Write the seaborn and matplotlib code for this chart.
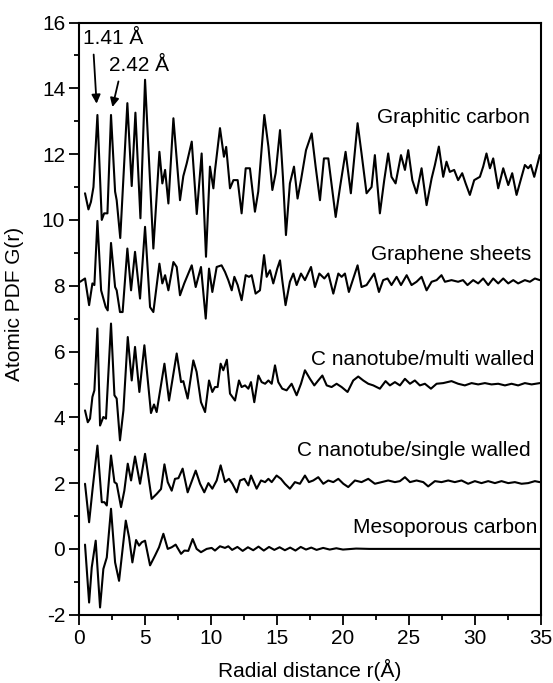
import pandas as pd
import seaborn as sns
import matplotlib.pyplot as plt
from matplotlib.ticker import MultipleLocator

# === Data (r in Angstrom, G(r) with vertical offsets) ===
graphitic_r = [0.45, 0.71, 0.9, 1.09, 1.39, 1.72, 1.9, 2.15, 2.42, 2.73, 2.85, 3.12, 3.66, 3.99,
               4.27, 4.65, 5.0, 5.63, 6.09, 6.31, 6.52, 6.77, 7.15, 7.65, 7.9, 8.16, 8.54, 8.92,
               9.29, 9.62, 9.92, 10.18, 10.3, 10.68, 10.98, 11.15, 11.44, 11.7, 12.02, 12.32,
               12.63, 12.95, 13.33, 13.58, 14.04, 14.35, 14.65, 14.9, 15.23, 15.45, 15.68, 15.98,
               16.29, 16.56, 16.82, 17.2, 17.63, 17.93, 18.26, 18.56, 18.89, 19.45, 19.78, 20.2,
               20.6, 21.11, 21.41, 21.79, 22.17, 22.42, 22.8, 23.13, 23.43, 23.68, 23.99, 24.4,
               24.7, 24.95, 25.26, 25.58, 25.96, 26.34, 26.72, 26.97, 27.27, 27.6, 27.85, 28.1,
               28.43, 28.73, 29.04, 29.3, 29.62, 29.95, 30.38, 30.63, 30.88, 31.14, 31.39, 31.77,
               32.15, 32.53, 32.83, 33.16, 33.54, 33.79, 34.04, 34.24, 34.5, 34.92]
graphitic_g = [10.81, 10.32, 10.55, 11.0, 13.19, 10.0, 10.2, 10.2, 13.19, 10.86, 10.6, 9.45, 13.55,
               11.03, 13.26, 10.05, 14.26, 9.13, 12.07, 11.11, 11.52, 10.5, 13.09, 10.6, 11.33,
               11.72, 12.38, 10.18, 12.02, 8.88, 11.62, 10.96, 11.5, 12.79, 11.92, 12.22, 10.96,
               11.21, 11.21, 10.2, 11.57, 11.57, 10.25, 10.86, 13.19, 12.23, 10.91, 11.42, 12.73,
               11.31, 9.54, 11.11, 11.62, 10.65, 11.21, 12.12, 12.63, 11.62, 10.6, 11.87, 11.87,
               10.09, 11.0, 12.07, 10.81, 12.94, 12.02, 10.81, 11.0, 11.97, 10.2, 11.21, 12.02,
               11.31, 11.11, 11.97, 11.52, 12.12, 11.21, 10.81, 11.57, 10.45, 11.26, 11.67, 12.23,
               11.31, 11.77, 11.46, 11.52, 11.21, 11.42, 11.11, 10.76, 11.21, 11.31, 11.62, 12.02,
               11.57, 11.87, 10.96, 11.57, 11.06, 11.42, 10.76, 11.31, 11.67, 11.57, 11.67, 11.31,
               11.97]

graphene_r = [0.08, 0.45, 0.76, 1.01, 1.16, 1.39, 1.67, 2.02, 2.17, 2.42, 2.73, 2.85, 3.1, 3.3,
              3.66, 3.94, 4.24, 4.62, 5.0, 5.38, 5.63, 6.09, 6.31, 6.52, 6.77, 7.15, 7.4, 7.65,
              7.97, 8.28, 8.54, 8.84, 9.24, 9.6, 9.85, 10.1, 10.43, 10.8, 11.06, 11.31, 11.57,
              11.77, 12.02, 12.32, 12.63, 12.88, 13.08, 13.38, 13.71, 14.02, 14.22, 14.47, 14.72,
              15.02, 15.23, 15.4, 15.65, 15.98, 16.24, 16.49, 16.82, 17.12, 17.58, 17.88, 18.21,
              18.59, 18.89, 19.27, 19.65, 19.9, 20.15, 20.45, 21.11, 21.41, 21.79, 22.37, 22.73,
              23.05, 23.38, 23.68, 24.07, 24.4, 24.83, 25.2, 25.58, 25.96, 26.34, 26.72, 27.1,
              27.47, 27.73, 28.23, 28.73, 29.1, 29.44, 29.87, 30.25, 30.63, 31.01, 31.39, 31.77,
              32.15, 32.53, 32.91, 33.28, 33.79, 34.17, 34.55, 34.92]
graphene_g = [8.12, 8.22, 7.41, 8.07, 8.02, 9.97, 7.86, 7.35, 7.25, 9.30, 7.96, 7.86, 7.2, 7.2,
              9.13, 7.86, 9.03, 7.61, 9.79, 7.35, 7.2, 8.67, 8.07, 8.32, 7.86, 8.72, 8.57, 7.71,
              8.07, 8.37, 8.62, 7.96, 8.57, 7.0, 8.52, 7.81, 8.57, 8.62, 8.42, 8.17, 7.86, 8.27,
              8.02, 7.56, 8.32, 8.27, 8.32, 7.76, 7.86, 8.93, 8.27, 8.47, 8.07, 8.52, 8.77, 8.17,
              7.41, 8.12, 8.37, 8.02, 8.37, 8.17, 8.57, 7.96, 8.37, 8.22, 8.37, 7.76, 8.37, 8.27,
              8.37, 7.81, 8.62, 7.96, 8.02, 8.37, 7.81, 8.17, 8.22, 8.02, 8.27, 8.02, 8.32, 8.02,
              8.12, 8.27, 7.86, 8.12, 8.17, 8.32, 8.12, 8.17, 8.12, 8.17, 8.02, 8.17, 8.07, 8.22,
              8.02, 8.22, 8.07, 8.22, 8.07, 8.17, 8.07, 8.17, 8.12, 8.22, 8.17]

multi_r = [0.45, 0.66, 0.83, 1.01, 1.16, 1.39, 1.59, 1.84, 2.04, 2.42, 2.68, 2.85, 3.1, 3.36,
           3.69, 3.99, 4.24, 4.57, 4.95, 5.45, 5.68, 5.88, 6.47, 6.82, 7.4, 7.73, 7.9, 8.23,
           8.66, 8.91, 9.24, 9.55, 9.85, 10.1, 10.3, 10.5, 10.73, 10.93, 11.2, 11.44, 11.82,
           12.12, 12.32, 12.58, 12.83, 13.03, 13.28, 13.59, 13.84, 14.1, 14.35, 14.6, 14.85,
           15.1, 15.4, 15.73, 16.11, 16.49, 16.82, 17.12, 17.5, 17.83, 18.13, 18.44, 18.77,
           19.14, 19.52, 19.9, 20.35, 20.78, 21.16, 21.54, 21.92, 22.3, 22.8, 23.23, 23.56,
           23.94, 24.32, 24.7, 25.08, 25.45, 25.83, 26.21, 26.67, 27.1, 27.6, 28.23, 28.73,
           29.24, 29.75, 30.25, 30.76, 31.26, 31.77, 32.28, 32.78, 33.28, 33.79, 34.3, 34.92]
multi_g = [4.21, 3.85, 3.96, 4.62, 4.82, 6.70, 3.75, 4.01, 3.96, 6.85, 4.67, 4.57, 3.30, 4.21,
           6.44, 5.12, 6.14, 4.77, 6.19, 4.13, 4.39, 4.16, 5.63, 4.51, 5.94, 5.07, 5.1, 4.57,
           5.73, 5.38, 4.46, 4.16, 5.12, 4.77, 4.92, 4.92, 5.63, 5.43, 5.75, 4.72, 4.51, 5.12,
           4.92, 4.97, 4.87, 5.07, 4.46, 5.27, 5.07, 5.02, 5.12, 5.02, 5.58, 5.07, 4.87, 4.82,
           5.02, 4.67, 5.02, 5.43, 5.17, 4.97, 5.12, 5.27, 4.97, 4.92, 5.02, 4.92, 4.77, 5.12,
           5.24, 5.12, 5.02, 4.97, 4.87, 5.1, 4.97, 5.07, 4.97, 5.17, 5.02, 5.12, 4.97, 5.02,
           4.87, 5.02, 5.04, 5.1, 5.02, 4.97, 5.04, 5.0, 5.04, 5.0, 5.02, 4.97, 5.02, 4.97,
           5.04, 5.0, 5.04]

single_r = [0.45, 0.76, 1.01, 1.39, 1.72, 1.92, 2.1, 2.42, 2.68, 2.85, 3.18, 3.43, 3.69, 3.94,
            4.24, 4.62, 5.0, 5.5, 5.88, 6.21, 6.47, 6.72, 7.02, 7.27, 7.53, 7.85, 8.23, 8.84,
            9.17, 9.49, 9.8, 10.1, 10.43, 10.73, 11.06, 11.36, 11.62, 11.95, 12.2, 12.53, 12.83,
            13.03, 13.46, 13.79, 14.1, 14.35, 14.6, 14.97, 15.3, 15.6, 15.98, 16.36, 16.74,
            17.12, 17.42, 17.75, 18.13, 18.51, 18.89, 19.27, 19.65, 20.03, 20.4, 20.91, 21.41,
            21.92, 22.42, 22.93, 23.43, 23.94, 24.32, 24.7, 25.08, 25.58, 26.09, 26.46, 26.97,
            27.47, 27.98, 28.48, 28.99, 29.49, 30.0, 30.5, 31.01, 31.52, 32.02, 32.53, 33.03,
            33.54, 34.04, 34.55, 34.92]
single_g = [1.98, 0.81, 1.77, 3.14, 1.42, 1.42, 1.32, 2.84, 2.03, 1.98, 1.27, 1.77, 2.59, 2.08,
            2.81, 1.98, 2.89, 1.52, 1.67, 1.82, 2.57, 2.03, 1.77, 2.13, 2.15, 2.44, 1.72, 2.38,
            1.98, 1.72, 2.0, 1.83, 2.08, 2.54, 2.03, 2.13, 1.98, 1.72, 2.08, 2.13, 1.93, 2.23,
            1.83, 2.08, 2.03, 2.13, 2.03, 2.23, 2.13, 1.98, 1.83, 2.03, 1.98, 2.23, 2.03, 2.08,
            2.18, 1.98, 2.08, 2.03, 2.13, 1.98, 1.88, 2.08, 2.03, 2.13, 1.98, 2.03, 2.08, 2.03,
            2.06, 2.18, 2.03, 2.08, 2.03, 1.9, 2.06, 2.03, 2.08, 2.03, 2.08, 1.98, 2.06, 2.0,
            2.06, 2.0, 2.06, 2.0, 2.03, 1.98, 2.0, 2.06, 2.03]

meso_r = [0.45, 0.76, 0.96, 1.26, 1.59, 1.84, 2.1, 2.42, 2.73, 3.03, 3.54, 3.79, 4.04, 4.32,
          4.55, 4.75, 5.0, 5.38, 5.76, 6.06, 6.39, 6.72, 7.02, 7.32, 7.73, 7.98, 8.28, 8.61,
          8.91, 9.24, 9.67, 10.05, 10.3, 10.68, 11.06, 11.31, 11.6, 12.0, 12.4, 12.8, 13.2,
          13.6, 14.0, 14.4, 14.8, 15.2, 15.6, 16.0, 16.4, 16.8, 17.2, 17.6, 18.0, 18.5, 19.0,
          19.5, 20.0, 21.0, 22.0, 35.0]
meso_g = [0.13, -1.63, -0.56, 0.25, -1.78, -0.61, -0.26, 1.22, -0.41, -0.97, 0.86, 0.35, -0.41,
          0.27, 0.1, 0.2, 0.25, -0.5, -0.2, 0.05, 0.46, 0.0, 0.05, 0.13, -0.15, -0.05, -0.06,
          0.30, 0.0, -0.1, 0.0, 0.03, -0.05, 0.08, 0.03, 0.08, -0.03, 0.06, -0.06, 0.05, -0.04,
          0.07, -0.05, 0.06, -0.03, 0.05, -0.04, 0.04, -0.05, 0.06, -0.02, 0.04, -0.03, 0.03,
          -0.02, 0.02, -0.02, 0.01, 0.0, 0.0]

names = ["Graphitic carbon", "Graphene sheets", "C nanotube/multi walled",
         "C nanotube/single walled", "Mesoporous carbon"]
label_x = [34.17, 34.3, 34.5, 34.2, 34.7]
label_y = [13.1, 8.95, 5.75, 3.0, 0.65]

frames = []
for name, r, g in zip(names,
                      [graphitic_r, graphene_r, multi_r, single_r, meso_r],
                      [graphitic_g, graphene_g, multi_g, single_g, meso_g]):
    frames.append(pd.DataFrame({"r": r, "G": g, "sample": name}))
df = pd.concat(frames, ignore_index=True)

# === Plot ===
sns.set_style("ticks")
plt.rcParams["font.family"] = ["Liberation Sans", "DejaVu Sans"]
plt.rcParams["axes.linewidth"] = 1.5
plt.rcParams["axes.unicode_minus"] = False
plt.rcParams["text.color"] = "black"
plt.rcParams["axes.labelcolor"] = "black"

fig = plt.figure(figsize=(5.53, 6.83), dpi=100)
ax = fig.add_axes([0.143, 0.100, 0.835, 0.867])

sns.lineplot(data=df, x="r", y="G", units="sample", estimator=None, sort=False,
             color="black", linewidth=1.5, ax=ax, legend=False,
             solid_joinstyle="round")

ax.set_xlim(0, 35)
ax.set_ylim(-2, 16)
ax.xaxis.set_major_locator(MultipleLocator(5))
ax.xaxis.set_minor_locator(MultipleLocator(2.5))
ax.yaxis.set_major_locator(MultipleLocator(2))
ax.yaxis.set_minor_locator(MultipleLocator(1))
ax.tick_params(which="major", direction="out", length=7, width=1.3, labelsize=15,
               colors="black", pad=3)
ax.tick_params(which="minor", direction="out", length=3.5, width=1.3, colors="black")
for s in ax.spines.values():
    s.set_visible(True)
    s.set_color("black")

ax.set_xlabel("Radial distance r(Å)", fontsize=15, labelpad=8)
ax.set_ylabel("Atomic PDF G(r)", fontsize=15)
ax.yaxis.set_label_coords(-0.119, 0.525)

for name, x, y in zip(names, label_x, label_y):
    ax.text(x, y, name, ha="right", va="center", fontsize=15)

arrow = dict(arrowstyle="-|>", color="black", lw=1.3, mutation_scale=13)
ax.annotate("1.41 Å", xy=(1.34, 13.45), xytext=(0.3, 15.5), fontsize=15,
            va="center", ha="left", arrowprops=dict(arrow, relpos=(0.17, 0.0)))
ax.annotate("2.42 Å", xy=(2.48, 13.35), xytext=(2.27, 14.68), fontsize=15,
            va="center", ha="left", arrowprops=dict(arrow, relpos=(0.18, 0.0)))

fig.savefig("out.png", dpi=100)
